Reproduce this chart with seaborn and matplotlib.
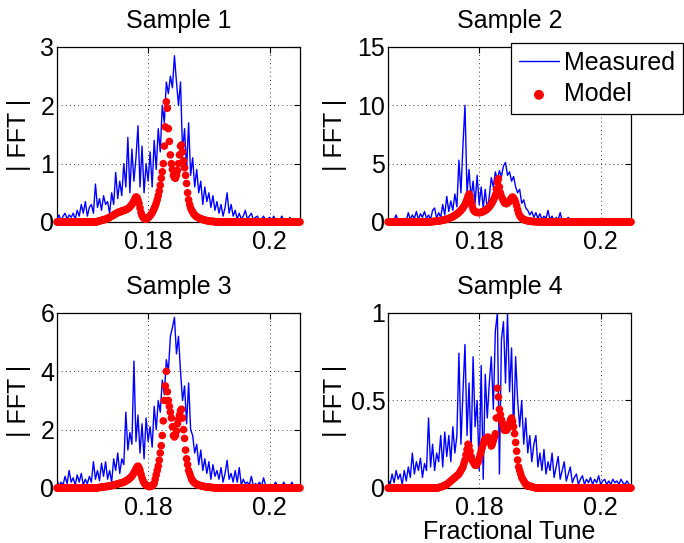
import numpy as np
import seaborn as sns
import matplotlib
matplotlib.use("Agg")
import matplotlib.pyplot as plt

# fractional tune axis of the measured FFT bins
tune = np.linspace(0.165, 0.205, 121)
# the model is evaluated on a finer tune grid
tune_model = np.linspace(0.165, 0.205, 241)

measured_1 = [0.05, 0.12, 0.02, 0.1, 0.15, 0.05, 0.12, 0.08, 0.15, 0.05,
              0.2, 0.1, 0.3, 0.15, 0.35, 0.1, 0.25, 0.3, 0.15, 0.65,
              0.25, 0.4, 0.2, 0.45, 0.3, 0.35, 0.15, 0.5, 0.3, 0.85,
              0.4, 0.7, 0.45, 1.0, 0.6, 1.45, 0.5, 1.25, 0.7, 1.1,
              1.65, 0.6, 1.3, 0.5, 1.0, 0.7, 1.2, 0.6, 1.4, 0.9,
              1.6, 1.2, 2.0, 1.7, 2.4, 2.2, 2.5, 2.3, 2.85, 2.4,
              2.0, 2.4, 1.2, 1.6, 0.9, 1.7, 0.8, 1.1, 0.6, 0.9,
              0.5, 0.7, 0.3, 0.6, 0.35, 0.5, 0.25, 0.45, 0.2, 0.35,
              0.15, 0.3, 0.1, 0.25, 0.5, 0.15, 0.3, 0.1, 0.2, 0.05,
              0.15, 0.05, 0.1, 0.2, 0.05, 0.1, 0.15, 0.03, 0.08, 0.1,
              0.02, 0.05, 0.1, 0.03, 0.05, 0.08, 0.02, 0.1, 0.03, 0.05,
              0.02, 0.1, 0.03, 0.05, 0.02, 0.08, 0.02, 0.05, 0.02, 0.03, 0.01]
model_1 = [0.0] * 40 + [
    0.01, 0.01, 0.02, 0.02, 0.03, 0.03, 0.04, 0.04, 0.05, 0.05,
    0.06, 0.07, 0.08, 0.09, 0.1, 0.11, 0.12, 0.13, 0.14, 0.15,
    0.16, 0.17, 0.17, 0.18, 0.19, 0.19, 0.2, 0.2, 0.21, 0.22,
    0.23, 0.24, 0.26, 0.28, 0.3, 0.33, 0.36, 0.4, 0.43, 0.42,
    0.38, 0.32, 0.24, 0.16, 0.11, 0.08, 0.06, 0.05, 0.05, 0.06,
    0.07, 0.09, 0.11, 0.13, 0.16, 0.19, 0.23, 0.27, 0.32, 0.38,
    0.45, 0.53, 0.63, 0.75, 0.86, 1.0, 1.3, 1.63, 2.06, 1.95,
    1.6, 1.38, 1.15, 1.0, 0.9, 0.8, 0.76, 0.75, 0.8, 0.88,
    1.0, 1.15, 1.3, 1.32, 1.2, 1.05, 0.93, 0.8, 0.66, 0.5,
    0.38, 0.3, 0.24, 0.2, 0.17, 0.14, 0.12, 0.1, 0.09, 0.08,
    0.07, 0.06, 0.05, 0.05, 0.04, 0.04, 0.03, 0.03, 0.02, 0.02,
    0.02, 0.01, 0.01, 0.01, 0.01, 0.01] + [0.0] * 85

measured_2 = [0.1, 0.3, 0.05, 0.2, 0.6, 0.1, 0.2, 0.05, 0.3, 0.1,
              0.8, 0.2, 0.6, 0.3, 0.9, 0.2, 0.7, 0.4, 0.9, 0.3,
              0.6, 0.2, 1.0, 1.2, 0.3, 0.8, 0.4, 1.5, 0.6, 2.2,
              0.9, 1.8, 1.0, 2.4, 1.3, 5.3, 2.5, 6.6, 10.0, 2.5,
              4.5, 2.0, 3.5, 1.6, 4.0, 1.5, 3.0, 1.2, 2.8, 1.0,
              2.2, 3.8, 3.0, 4.3, 3.6, 4.4, 3.9, 4.8, 5.1, 4.0,
              4.3, 3.5, 3.9, 3.0, 2.5, 2.8, 1.6, 1.9, 1.2, 1.0,
              0.6, 0.9, 0.4, 0.8, 0.3, 0.7, 0.2, 0.5, 0.3, 1.0,
              0.2, 0.5, 0.1, 0.4, 0.2, 0.8, 0.1, 0.3, 0.2, 0.4,
              0.1, 0.2, 0.05, 0.3, 0.1, 0.2, 0.05, 0.15, 0.1, 0.2,
              0.05, 0.1, 0.2, 0.3, 0.05, 0.1, 0.2, 0.05, 0.1, 0.05,
              0.15, 0.05, 0.1, 0.05, 0.2, 0.05, 0.1, 0.05, 0.1, 0.05, 0.05]
model_2 = [0.0] * 40 + [
    0.01, 0.02, 0.02, 0.03, 0.03, 0.04, 0.05, 0.06, 0.07, 0.08,
    0.09, 0.1, 0.12, 0.13, 0.15, 0.17, 0.19, 0.21, 0.24, 0.27,
    0.3, 0.33, 0.37, 0.41, 0.46, 0.51, 0.56, 0.62, 0.68, 0.75,
    0.82, 0.9, 1.0, 1.1, 1.2, 1.35, 1.5, 1.7, 1.95, 2.2,
    2.4, 2.2, 1.8, 1.4, 1.1, 0.95, 0.88, 0.84, 0.82, 0.8,
    0.8, 0.81, 0.83, 0.86, 0.9, 0.94, 0.99, 1.05, 1.12, 1.2,
    1.3, 1.42, 1.55, 1.7, 1.85, 2.05, 2.3, 2.8, 3.4, 3.7,
    3.0, 2.5, 2.2, 2.0, 1.8, 1.65, 1.58, 1.57, 1.62, 1.7,
    1.8, 1.95, 2.08, 2.14, 2.05, 1.9, 1.7, 1.4, 1.05, 0.75,
    0.55, 0.42, 0.33, 0.26, 0.21, 0.17, 0.14, 0.12, 0.1, 0.08,
    0.07, 0.06, 0.05, 0.04, 0.04, 0.03, 0.03, 0.02, 0.02, 0.02,
    0.01, 0.01, 0.01, 0.01, 0.01, 0.01] + [0.0] * 85

measured_3 = [0.3, 0.05, 0.2, 0.1, 0.4, 0.15, 0.6, 0.2, 0.35, 0.1,
              0.45, 0.2, 0.5, 0.1, 0.3, 0.15, 0.4, 0.2, 0.9, 0.3,
              0.6, 0.25, 0.85, 0.4, 0.9, 0.3, 0.6, 0.2, 1.0, 0.6,
              1.2, 0.5, 1.0, 0.8, 2.6, 1.3, 1.9, 1.5, 4.35, 1.6,
              2.5, 1.2, 2.2, 1.0, 2.4, 1.6, 2.1, 1.4, 2.8, 2.0,
              3.0, 2.6, 3.7, 3.2, 4.4, 4.0, 5.2, 5.5, 5.85, 4.6,
              5.2, 4.0, 3.0, 3.5, 2.2, 3.6, 2.0, 1.8, 1.2, 1.5,
              0.8, 1.3, 0.6, 1.0, 0.5, 0.9, 0.3, 0.8, 0.4, 0.6,
              0.3, 0.7, 0.2, 0.5, 0.95, 0.3, 0.5, 0.2, 0.6, 0.2,
              0.7, 0.1, 0.3, 0.15, 0.2, 0.1, 0.4, 0.05, 0.15, 0.1,
              0.2, 0.05, 0.35, 0.1, 0.05, 0.1, 0.05, 0.1, 0.2, 0.05,
              0.1, 0.05, 0.2, 0.05, 0.1, 0.05, 0.2, 0.05, 0.1, 0.05, 0.05]
model_3 = [0.0] * 40 + [
    0.01, 0.01, 0.02, 0.02, 0.03, 0.03, 0.04, 0.04, 0.05, 0.05,
    0.06, 0.06, 0.07, 0.07, 0.08, 0.09, 0.1, 0.11, 0.12, 0.13,
    0.14, 0.15, 0.16, 0.17, 0.18, 0.19, 0.2, 0.22, 0.24, 0.26,
    0.28, 0.31, 0.34, 0.37, 0.41, 0.46, 0.52, 0.58, 0.65, 0.72,
    0.75, 0.7, 0.6, 0.47, 0.35, 0.25, 0.18, 0.13, 0.1, 0.08,
    0.06, 0.05, 0.05, 0.06, 0.08, 0.11, 0.16, 0.3, 0.45, 0.6,
    0.75, 0.95, 1.2, 1.45, 1.8, 2.3, 3.0, 3.5, 4.0, 3.3,
    3.0, 2.8, 2.6, 2.4, 2.1, 1.8, 1.75, 1.8, 1.95, 2.2,
    2.35, 2.5, 2.65, 2.7, 2.4, 2.0, 1.7, 1.3, 1.0, 0.8,
    0.6, 0.5, 0.4, 0.3, 0.25, 0.2, 0.17, 0.15, 0.13, 0.11,
    0.1, 0.09, 0.08, 0.07, 0.06, 0.05, 0.05, 0.04, 0.04, 0.03,
    0.03, 0.02, 0.02, 0.02, 0.01, 0.01] + [0.0] * 85

measured_4 = [0.05, 0.02, 0.08, 0.03, 0.1, 0.05, 0.08, 0.02, 0.1, 0.04,
              0.12, 0.06, 0.2, 0.08, 0.15, 0.1, 0.17, 0.06, 0.14, 0.1,
              0.4, 0.12, 0.25, 0.1, 0.2, 0.15, 0.3, 0.12, 0.32, 0.18,
              0.3, 0.15, 0.35, 0.2, 0.3, 0.77, 0.25, 0.55, 0.82, 0.3,
              0.6, 0.2, 0.75, 0.35, 0.5, 0.1, 0.7, 0.05, 0.65, 0.4,
              0.6, 0.75, 0.45, 0.9, 1.0, 0.08, 0.85, 0.95, 0.6, 1.0,
              0.55, 0.8, 0.3, 0.75, 0.5, 0.35, 0.5, 0.25, 0.4, 0.2,
              0.3, 0.15, 0.25, 0.3, 0.12, 0.2, 0.1, 0.22, 0.08, 0.15,
              0.1, 0.2, 0.06, 0.12, 0.18, 0.05, 0.1, 0.15, 0.04, 0.08,
              0.12, 0.03, 0.06, 0.08, 0.02, 0.05, 0.07, 0.02, 0.05, 0.03,
              0.06, 0.02, 0.05, 0.03, 0.07, 0.02, 0.04, 0.05, 0.02, 0.04,
              0.02, 0.05, 0.03, 0.04, 0.02, 0.05, 0.03, 0.02, 0.04, 0.02, 0.01]
model_4 = [0.0] * 50 + [
    0.002, 0.004, 0.006, 0.008, 0.01, 0.012, 0.015, 0.018, 0.02, 0.025,
    0.03, 0.035, 0.04, 0.045, 0.05, 0.055, 0.06, 0.065, 0.07, 0.075,
    0.08, 0.09, 0.1, 0.11, 0.12, 0.14, 0.16, 0.19, 0.22, 0.25,
    0.24, 0.21, 0.18, 0.16, 0.15, 0.14, 0.13, 0.13, 0.14, 0.15,
    0.17, 0.19, 0.21, 0.23, 0.25, 0.27, 0.28, 0.28, 0.29, 0.29,
    0.28, 0.26, 0.24, 0.25, 0.27, 0.29, 0.31, 0.4, 0.57, 0.52,
    0.45, 0.42, 0.39, 0.37, 0.35, 0.33, 0.33, 0.33, 0.34, 0.35,
    0.37, 0.39, 0.4, 0.38, 0.35, 0.31, 0.26, 0.21, 0.16, 0.12,
    0.1, 0.08, 0.06, 0.05, 0.04, 0.03, 0.02, 0.02, 0.01, 0.01,
    0.01, 0.01, 0.005, 0.005, 0.003, 0.002] + [0.0] * 95

titles = ["Sample 1", "Sample 2", "Sample 3", "Sample 4"]
measured = [measured_1, measured_2, measured_3, measured_4]
model = [model_1, model_2, model_3, model_4]
yticks = [[0, 1, 2, 3], [0, 5, 10, 15], [0, 2, 4, 6], [0, 0.5, 1]]
ytick_labels = [["0", "1", "2", "3"], ["0", "5", "10", "15"],
                ["0", "2", "4", "6"], ["0", "0.5", "1"]]

for m, d in zip(measured, model):
    assert len(m) == len(tune) and len(d) == len(tune_model), (len(m), len(d))

sns.set_style("white")
plt.rcParams['font.family'] = ['Liberation Sans', 'DejaVu Sans']
plt.rcParams['text.color'] = 'black'
plt.rcParams['axes.labelcolor'] = 'black'

fig = plt.figure(figsize=(6.84, 5.43), dpi=100)
positions = [[0.0833, 0.5912, 0.3553, 0.3223], [0.5673, 0.5912, 0.3553, 0.3223],
             [0.0833, 0.1013, 0.3553, 0.3223], [0.5673, 0.1013, 0.3553, 0.3223]]
label_x = [-0.105, -0.17, -0.105, -0.17]
fs = 18

for k in range(4):
    ax = fig.add_axes(positions[k])
    sns.lineplot(x=tune, y=measured[k], color='blue', lw=1.0, ax=ax, label='Measured')
    sns.scatterplot(x=tune_model, y=model[k], color='red', s=30, edgecolor='none',
                    ax=ax, clip_on=False, zorder=3, label='Model')
    ax.set_xlim(0.165, 0.205)
    ax.set_ylim(yticks[k][0], yticks[k][-1])
    ax.set_xticks([0.18, 0.2])
    ax.set_xticklabels(["0.18", "0.2"])
    ax.set_yticks(yticks[k])
    ax.set_yticklabels(ytick_labels[k])
    ax.grid(True, linestyle=(0, (1, 4)), color='black', lw=0.6)
    ax.tick_params(direction='in', length=4, width=0.8, labelsize=fs,
                   top=True, right=True, colors='black')
    ax.tick_params(axis='x', pad=6)
    ax.tick_params(axis='y', pad=2)
    for sp in ax.spines.values():
        sp.set_color('black')
        sp.set_linewidth(0.9)
    ax.set_title(titles[k], fontsize=fs, pad=14, color='black')
    ax.set_ylabel('| FFT |', fontsize=fs)
    ax.yaxis.set_label_coords(label_x[k], 0.5)
    if k == 3:
        ax.set_xlabel('Fractional Tune', fontsize=fs, labelpad=0)
    if k == 1:
        leg = ax.legend(loc='upper right', bbox_to_anchor=(0.9985, 0.921),
                        bbox_transform=fig.transFigure, borderaxespad=0,
                        fontsize=fs, fancybox=False, framealpha=1,
                        edgecolor='black', handlelength=1.6,
                        handletextpad=0.2, labelspacing=0.3,
                        borderpad=0.32, markerscale=1.3)
        leg.get_frame().set_linewidth(0.9)
    else:
        ax.get_legend().remove()

plt.savefig("out.png", dpi=100)
